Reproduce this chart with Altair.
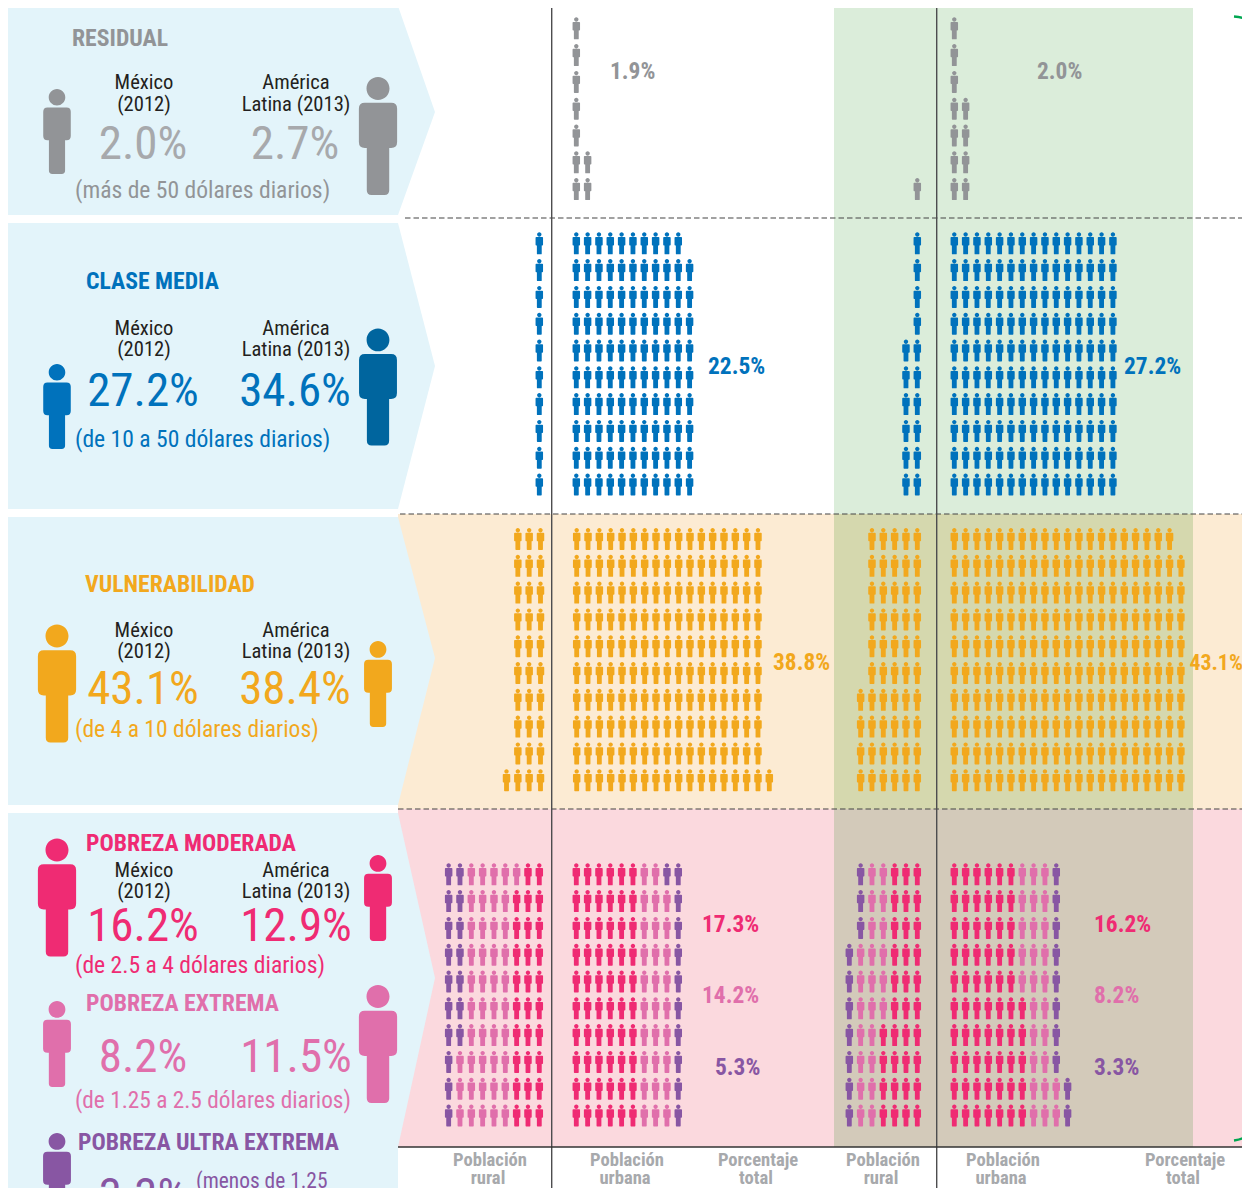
import altair as alt
import pandas as pd

alt.data_transformers.disable_max_rows()

FONT = "Roboto Condensed, Roboto, sans-serif"

# ---- palette
GRAY, BLUE, ORANGE, DARK, LIGHT, PURPLE = "#929497", "#0072BC", "#F2A81D", "#EF2B73", "#E06FAB", "#8856A3"
PALE = "#A7A9AC"
INK = "#231F20"
C = {"g": GRAY, "b": BLUE, "o": ORANGE, "d": DARK, "l": LIGHT, "p": PURPLE}

# ---- background bands: x, x2, y, y2, colour
bands_x = [398, 398, 834, 834, 834]
bands_x2 = [1250, 1250, 1193, 1193, 1193]
bands_y = [514, 809, 6, 514, 809]
bands_y2 = [809, 1147, 514, 809, 1147]
bands_c = ["#FCEBD3", "#FBD9DE", "#DBEDDA", "#D5D8AE", "#D3CABA"]

# ---- left arrow panels: (group, x, top, bottom)
arrow_g = [1, 1, 1, 2, 2, 2, 3, 3, 3, 4, 4, 5, 5]
arrow_x = [0, 398, 435, 0, 398, 435, 0, 398, 435, 0, 398, 398, 435]
arrow_t = [6, 6, 112, 223, 223, 366, 517, 517, 658, 813, 813, 813, 978]
arrow_b = [215, 215, 112, 509, 509, 366, 805, 805, 658, 1188, 1188, 1147, 978]

# ---- people grids. Rows listed top to bottom, each a string with one letter
#      per figure, left to right.
row_y0 = {"res": 28.3, "med": 243.3, "vul": 539.0, "pob": 874.3}
step_x, step_y = 11.33, 26.8

res_a_urban = ["g", "g", "g", "g", "g", "gg", "gg"]
res_c_rural = [None, None, None, None, None, None, "g"]
res_d_urban = ["g", "g", "g", "gg", "gg", "gg", "gg"]
med_a_rural = ["b"] * 10
med_b_urban = ["b" * 10] + ["b" * 11] * 9
med_c_rural = ["b"] * 4 + ["bb"] * 6
med_d_urban = ["b" * 15] * 10
vul_a_rural = ["ooo"] * 9 + ["oooo"]
vul_b_urban = ["o" * 17] * 9 + ["o" * 18]
vul_c_rural = ["o" * 5] * 6 + ["o" * 6] * 4
vul_d_urban = ["o" * 20] + ["o" * 21] * 9
pob_a_rural = ["pp" + "lllll" + "dd"] + ["pp" + "llll" + "ddd"] * 6 + ["p" + "lllll" + "ddd"] * 3
pob_b_urban = ["dddddd" + "ll" + "pp"] + ["dddddd" + "lll" + "p"] * 9
pob_c_rural = ["p" + "ll" + "ddd"] * 3 + ["p" + "lll" + "ddd"] * 3 + ["p" + "ll" + "dddd"] * 4
pob_d_urban = ["dddddd" + "lll" + "p"] * 5 + ["ddddddd" + "ll" + "p"] * 3 + ["ddddddd" + "lll" + "p"] * 2

# (rows, section, anchor x, "left" grows right from anchor, "right" grows left)
grids = [
    (res_a_urban, "res", 576.3, "left"), (res_c_rural, "res", 917.3, "right"), (res_d_urban, "res", 954.3, "left"),
    (med_a_rural, "med", 539.3, "right"), (med_b_urban, "med", 576.3, "left"),
    (med_c_rural, "med", 917.3, "right"), (med_d_urban, "med", 954.3, "left"),
    (vul_a_rural, "vul", 540.5, "right"), (vul_b_urban, "vul", 576.7, "left"),
    (vul_c_rural, "vul", 917.3, "right"), (vul_d_urban, "vul", 954.3, "left"),
    (pob_a_rural, "pob", 539.3, "right"), (pob_b_urban, "pob", 576.3, "left"),
    (pob_c_rural, "pob", 917.3, "right"), (pob_d_urban, "pob", 954.3, "left"),
]
SMALL = 22
people = []
for rows, sec, ax, side in grids:
    for r, row in enumerate(rows):
        if not row:
            continue
        n = len(row)
        for i, ch in enumerate(row):
            px = ax + i * step_x if side == "left" else ax - (n - 1 - i) * step_x
            people.append({"x": px, "y": row_y0[sec] + r * step_y, "c": C[ch], "h": SMALL ** 2})

# ---- large key figures: centre x, centre y, height, colour
key_x = [57, 378, 57, 378, 57, 378, 57, 378, 57, 378, 57]
key_y = [131.5, 136, 406.5, 387, 683.5, 684, 897.5, 898, 1044, 1044, 1176]
key_h = [85, 118, 85, 117, 118, 86, 118, 86, 86, 118, 86]
key_c = [GRAY, GRAY, BLUE, "#00659E", ORANGE, ORANGE, DARK, DARK, LIGHT, LIGHT, PURPLE]
keys = [{"x": a, "y": b, "c": col, "h": h ** 2} for a, b, h, col in zip(key_x, key_y, key_h, key_c)]

PERSON = (
    "M -0.195 -0.805 A 0.195 0.195 0 1 1 0.195 -0.805 A 0.195 0.195 0 1 1 -0.195 -0.805 Z "
    "M -0.224 -0.5625 L 0.224 -0.5625 Q 0.324 -0.5625 0.324 -0.4625 L 0.324 0.103 "
    "Q 0.324 0.203 0.224 0.203 L 0.19 0.203 L 0.19 0.92 Q 0.19 1 0.11 1 L -0.11 1 "
    "Q -0.19 1 -0.19 0.92 L -0.19 0.203 L -0.224 0.203 Q -0.324 0.203 -0.324 0.103 "
    "L -0.324 -0.4625 Q -0.324 -0.5625 -0.224 -0.5625 Z"
)
# the tiny figures print a little stouter than the key figures
PERSON_SMALL = (
    "M -0.2 -0.8 A 0.2 0.2 0 1 1 0.2 -0.8 A 0.2 0.2 0 1 1 -0.2 -0.8 Z "
    "M -0.27 -0.57 L 0.27 -0.57 Q 0.34 -0.57 0.34 -0.5 L 0.34 0.13 "
    "Q 0.34 0.2 0.27 0.2 L 0.22 0.2 L 0.22 0.94 Q 0.22 1 0.16 1 L -0.16 1 "
    "Q -0.22 1 -0.22 0.94 L -0.22 0.2 L -0.27 0.2 Q -0.34 0.2 -0.34 0.13 "
    "L -0.34 -0.5 Q -0.34 -0.57 -0.27 -0.57 Z"
)

# ---- text: string, x, baseline y, size, colour, weight, align
HEAD, LAB, PCT, SUB, SIDE, FOOT = 23.7, 20.6, 47, 23.6, 23.4, 18.6
texts = [
    ("RESIDUAL", 72, 46, HEAD, GRAY, "bold", "left"),
    ("CLASE MEDIA", 86, 289, HEAD, BLUE, "bold", "left"),
    ("VULNERABILIDAD", 85, 592, HEAD, ORANGE, "bold", "left"),
    ("POBREZA MODERADA", 86, 851, HEAD, DARK, "bold", "left"),
    ("POBREZA EXTREMA", 86, 1011, HEAD, LIGHT, "bold", "left"),
    ("POBREZA ULTRA EXTREMA", 78, 1150, HEAD, PURPLE, "bold", "left"),
]
for y1, y2 in [(89, 111), (335, 356), (637, 658), (877, 898)]:
    texts += [
        ("México", 144, y1, LAB, INK, "normal", "center"),
        ("(2012)", 144, y2, LAB, INK, "normal", "center"),
        ("América", 296, y1, LAB, INK, "normal", "center"),
        ("Latina (2013)", 296, y2, LAB, INK, "normal", "center"),
    ]
texts += [
    ("2.0%", 143, 159, PCT, PALE, "normal", "center"),
    ("2.7%", 295, 159, PCT, PALE, "normal", "center"),
    ("27.2%", 143, 406, PCT, BLUE, "normal", "center"),
    ("34.6%", 295, 406, PCT, BLUE, "normal", "center"),
    ("43.1%", 143, 704, PCT, ORANGE, "normal", "center"),
    ("38.4%", 295, 704, PCT, ORANGE, "normal", "center"),
    ("16.2%", 143, 941, PCT, DARK, "normal", "center"),
    ("12.9%", 296, 941, PCT, DARK, "normal", "center"),
    ("8.2%", 143, 1072, PCT, LIGHT, "normal", "center"),
    ("11.5%", 296, 1072, PCT, LIGHT, "normal", "center"),
    ("3.3%", 143, 1211, PCT, PURPLE, "normal", "center"),
    ("(más de 50 dólares diarios)", 75, 198, SUB, GRAY, "normal", "left"),
    ("(de 10 a 50 dólares diarios)", 75, 447, SUB, BLUE, "normal", "left"),
    ("(de 4 a 10 dólares diarios)", 75, 737, SUB, ORANGE, "normal", "left"),
    ("(de 2.5 a 4 dólares diarios)", 75, 973, SUB, DARK, "normal", "left"),
    ("(de 1.25 a 2.5 dólares diarios)", 75, 1108, 23.3, LIGHT, "normal", "left"),
    ("(menos de 1.25", 196, 1188, 21.4, PURPLE, "normal", "left"),
    ("1.9%", 610, 79, SIDE, GRAY, "bold", "left"),
    ("2.0%", 1037, 79, SIDE, GRAY, "bold", "left"),
    ("22.5%", 708, 374, SIDE, BLUE, "bold", "left"),
    ("27.2%", 1124, 374, SIDE, BLUE, "bold", "left"),
    ("38.8%", 773, 670, SIDE, ORANGE, "bold", "left"),
    ("43.1%", 1189.5, 670, 21.8, ORANGE, "bold", "left"),
    ("17.3%", 702, 932, SIDE, DARK, "bold", "left"),
    ("14.2%", 702, 1003, SIDE, LIGHT, "bold", "left"),
    ("5.3%", 715, 1075, SIDE, PURPLE, "bold", "left"),
    ("16.2%", 1094, 932, SIDE, DARK, "bold", "left"),
    ("8.2%", 1094, 1003, SIDE, LIGHT, "bold", "left"),
    ("3.3%", 1094, 1075, SIDE, PURPLE, "bold", "left"),
    ("Población", 490, 1166, FOOT, PALE, "bold", "center"),
    ("rural", 488, 1184, FOOT, PALE, "bold", "center"),
    ("Población", 627, 1166, FOOT, PALE, "bold", "center"),
    ("urbana", 625, 1184, FOOT, PALE, "bold", "center"),
    ("Porcentaje", 758, 1166, FOOT, PALE, "bold", "center"),
    ("total", 756, 1184, FOOT, PALE, "bold", "center"),
    ("Población", 883, 1166, FOOT, PALE, "bold", "center"),
    ("rural", 881, 1184, FOOT, PALE, "bold", "center"),
    ("Población", 1003, 1166, FOOT, PALE, "bold", "center"),
    ("urbana", 1001, 1184, FOOT, PALE, "bold", "center"),
    ("Porcentaje", 1185, 1166, FOOT, PALE, "bold", "center"),
    ("total", 1183, 1184, FOOT, PALE, "bold", "center"),
]

# ---- rules
dash_y = [218, 514, 809]
dash_x0 = [405, 400, 398]
vert_x = [551.7, 936.7]
arc_g = ["a", "a", "a", "b", "b", "b"]
arc_x = [1234, 1243, 1250, 1234, 1243, 1250]
arc_y = [16.5, 18, 22, 1140.5, 1138, 1132]

X = alt.X("x:Q", scale=alt.Scale(domain=[8, 1242], nice=False, zero=False), axis=None)
Y = alt.Y("y:Q", scale=alt.Scale(domain=[1188, 8], nice=False, zero=False), axis=None)
COL = alt.Color("c:N", scale=None)

bands = alt.Chart(pd.DataFrame({"x": bands_x, "x2": bands_x2, "y": bands_y, "y2": bands_y2, "c": bands_c})).mark_rect(strokeWidth=0).encode(
    x=X, x2="x2:Q", y=Y, y2="y2:Q", color=COL)

arrows = alt.Chart(pd.DataFrame({"x": arrow_x, "y": arrow_t, "y2": arrow_b, "g": arrow_g})).mark_area(
    color="#E3F4FA", interpolate="linear", orient="vertical").encode(x=X, y=Y, y2="y2:Q", detail="g:N")

dashes = alt.Chart(pd.DataFrame({"x": dash_x0, "x2": [1250] * 3, "y": dash_y})).mark_rule(
    color="#444444", strokeWidth=1.2, strokeDash=[5.5, 3]).encode(x=X, x2="x2:Q", y=Y)
verts = alt.Chart(pd.DataFrame({"x": vert_x, "y": [6, 6], "y2": [1188, 1188]})).mark_rule(
    color="#4D4D4F", strokeWidth=1.4).encode(x=X, y=Y, y2="y2:Q")
base = alt.Chart(pd.DataFrame({"x": [398], "x2": [1250], "y": [1147]})).mark_rule(
    color="#333333", strokeWidth=1.4).encode(x=X, x2="x2:Q", y=Y)
arcs = alt.Chart(pd.DataFrame({"x": arc_x, "y": arc_y, "g": arc_g})).mark_line(
    color="#00A651", strokeWidth=2.4, interpolate="monotone").encode(x=X, y=Y, detail="g:N")

figs = alt.Chart(pd.DataFrame(people)).mark_point(
    shape=PERSON_SMALL, filled=True, opacity=1, strokeWidth=0).encode(
    x=X, y=Y, color=COL, size=alt.Size("h:Q", scale=None))
key_figs = alt.Chart(pd.DataFrame(keys)).mark_point(
    shape=PERSON, filled=True, opacity=1, strokeWidth=0).encode(
    x=X, y=Y, color=COL, size=alt.Size("h:Q", scale=None))

tdf = pd.DataFrame(texts, columns=["t", "x", "y", "s", "c", "w", "a"])
tlayers = []
for (w, a), d in tdf.groupby(["w", "a"]):
    tlayers.append(alt.Chart(d).mark_text(font=FONT, fontWeight=w, align=a, baseline="alphabetic").encode(
        x=X, y=Y, text="t:N", color=COL, size=alt.Size("s:Q", scale=None)))

chart = alt.layer(bands, arrows, dashes, verts, base, arcs, figs, key_figs, *tlayers).properties(
    width=1234, height=1180, padding=0, autosize=alt.AutoSizeParams(type="none"),
    background="white").configure_view(stroke=None)

chart.save("out.html", embed_options={"renderer": "svg", "actions": False})
